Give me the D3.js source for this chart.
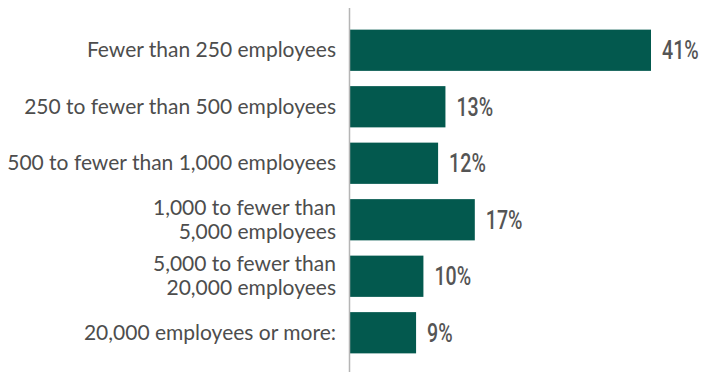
<!DOCTYPE html>
<html><head><meta charset="utf-8">
<script src="https://cdn.jsdelivr.net/npm/d3@7"></script>
<style>body{margin:0;background:#fff}svg{display:block}</style>
</head><body>
<svg id="c" width="702" height="372"></svg>
<script>
const categories = [
  ["Fewer than 250 employees"],
  ["250 to fewer than 500 employees"],
  ["500 to fewer than 1,000 employees"],
  ["1,000 to fewer than", "5,000 employees"],
  ["5,000 to fewer than", "20,000 employees"],
  ["20,000 employees or more:"]
];
const values = [41, 13, 12, 17, 10, 9];
const valueLabels = ["41%", "13%", "12%", "17%", "10%", "9%"];

const svg = d3.select("#c");
const x0 = 350;
const x = d3.scaleLinear().domain([0, 41]).range([x0, 651]);
const y = d3.scaleBand().domain(d3.range(values.length)).range([22, 361]).paddingInner(0.27).paddingOuter(0.135);

svg.selectAll("rect.bar").data(values).join("rect")
  .attr("class", "bar")
  .attr("x", x(0))
  .attr("y", (d, i) => y(i))
  .attr("width", d => x(d) - x(0))
  .attr("height", y.bandwidth())
  .attr("fill", "#03594e");

svg.append("line").attr("x1", 349.5).attr("x2", 349.5).attr("y1", 8).attr("y2", 372)
  .attr("stroke", "#b5b5b5").attr("stroke-width", 1.5);

const lab = svg.selectAll("text.cat").data(categories).join("text")
  .attr("class", "cat")
  .attr("text-anchor", "end")
  .attr("font-family", "Lato, sans-serif")
  .attr("font-size", 21)
  .attr("fill", "#4d4d4d");
lab.each(function(d, i) {
  const t = d3.select(this);
  const cy = y(i) + y.bandwidth() / 2;
  const n = d.length;
  d.forEach((line, j) => {
    t.append("tspan").attr("x", 336)
      .attr("y", cy + 7 + (j - (n - 1) / 2) * 24)
      .text(line);
  });
});

svg.selectAll("text.val").data(values).join("text")
  .attr("class", "val")
  .attr("transform", (d, i) => `translate(${x(d) + 11},${y(i) + y.bandwidth() / 2 + 9}) scale(0.74,1)`)
  .attr("font-family", "Roboto, sans-serif")
  .attr("font-size", 26.5)
  .attr("font-weight", 500)
  .attr("fill", "#555")
  .text((d, i) => valueLabels[i]);
</script>
</body></html>
